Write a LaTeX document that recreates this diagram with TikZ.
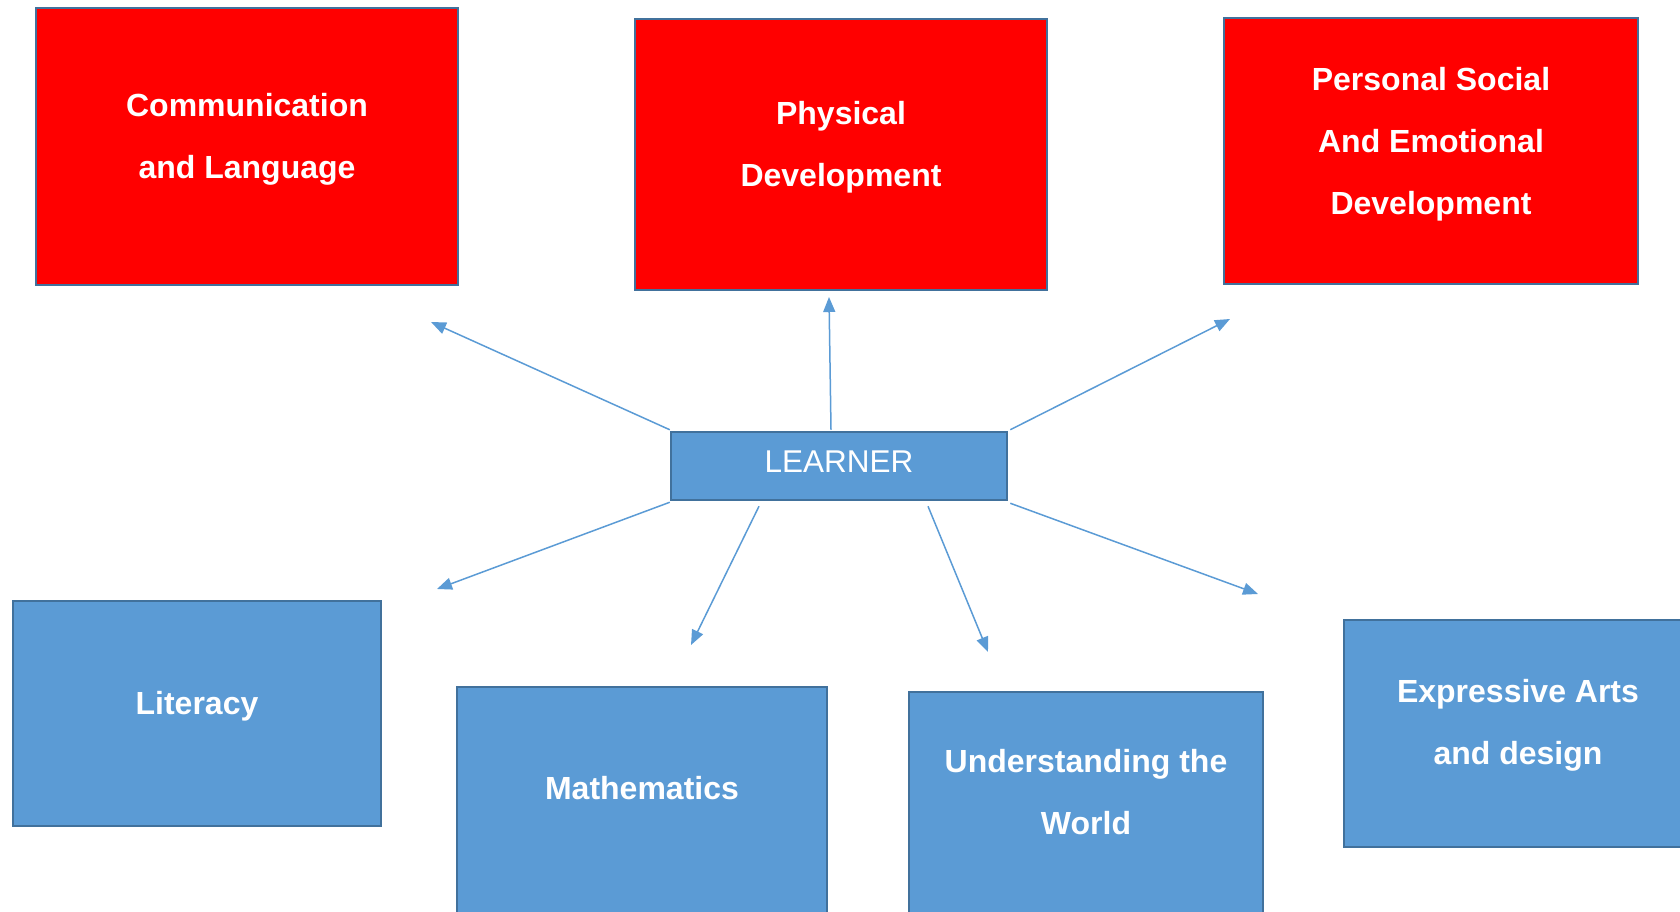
\documentclass[tikz,border=0pt]{standalone}
\usepackage{fontspec}
\setmainfont{Liberation Sans}
\usetikzlibrary{arrows.meta,calc}
\definecolor{boxred}{HTML}{FF0000}
\definecolor{boxblue}{HTML}{5B9BD5}
\definecolor{edgeblue}{HTML}{41719C}
\begin{document}
\begin{tikzpicture}[x=1pt,y=-1pt,
  area/.style={draw=edgeblue,line width=2.5pt,inner sep=0pt},
  redbox/.style={area,fill=boxred},
  bluebox/.style={area,fill=boxblue},
  areatext/.style={text=white,align=center,inner sep=0pt,font=\bfseries\fontsize{32}{62}\selectfont},
  link/.style={draw=boxblue,line width=1.5pt,-{Triangle[length=15pt,width=12pt]}}]
\useasboundingbox (0,0) rectangle (1680,912);
% top red boxes
\node[redbox,minimum width=422pt,minimum height=277pt] (comm) at (247,146.5) {};
\node[areatext] (commt) at (247,139.5) {Communication\\and Language};
\node[redbox,minimum width=412pt,minimum height=271pt] (phys) at (841,154.5) {};
\node[areatext] (physt) at (841,147.5) {Physical\\Development};
\node[redbox,minimum width=414pt,minimum height=266pt] (pers) at (1431,151) {};
\node[areatext] (perst) at (1431,144) {Personal Social\\And Emotional\\Development};
% bottom blue boxes
\node[bluebox,minimum width=368pt,minimum height=225pt] (lit) at (197,713.5) {};
\node[areatext] (litt) at (197,706.5) {Literacy};
\node[bluebox,minimum width=370pt,minimum height=253pt] (math) at (642,813.5) {};
\node[areatext] (matht) at (642,788.5) {Mathematics};
\node[bluebox,minimum width=354pt,minimum height=248pt] (und) at (1086,816) {};
\node[areatext] (undt) at (1086,792.5) {Understanding the\\World};
\node[bluebox,minimum width=356pt,minimum height=227pt] (expr) at (1522,733.5) {};
\node[areatext] (exprt) at (1518,725.5) {Expressive Arts\\and design};
% learner
\node[bluebox,minimum width=336pt,minimum height=68pt] (L) at (839,466) {};
\node[text=white,inner sep=0pt,font=\fontsize{31.5}{36}\selectfont] (Lt) at (839,462) {LEARNER};
% arrow ends
\coordinate (a1) at (431,322);
\coordinate (a2) at (829,297);
\coordinate (a3) at (1230,319);
\coordinate (a4) at (437,589);
\coordinate (a5) at (691,645);
\coordinate (a6) at (988,652);
\coordinate (a7) at (1258,594);
\draw[link] ([yshift=1pt]L.north west) -- (a1);
\draw[link] ([xshift=-8pt,yshift=1pt]L.north) -- (a2);
\draw[link] ([xshift=2pt,yshift=1pt]L.north east) -- (a3);
\draw[link] ([yshift=-1pt]L.south west) -- (a4);
\draw[link] ([xshift=-80pt,yshift=-5pt]L.south) -- (a5);
\draw[link] ([xshift=89pt,yshift=-5pt]L.south) -- (a6);
\draw[link] ([xshift=2pt,yshift=-2pt]L.south east) -- (a7);
\end{tikzpicture}
\end{document}
